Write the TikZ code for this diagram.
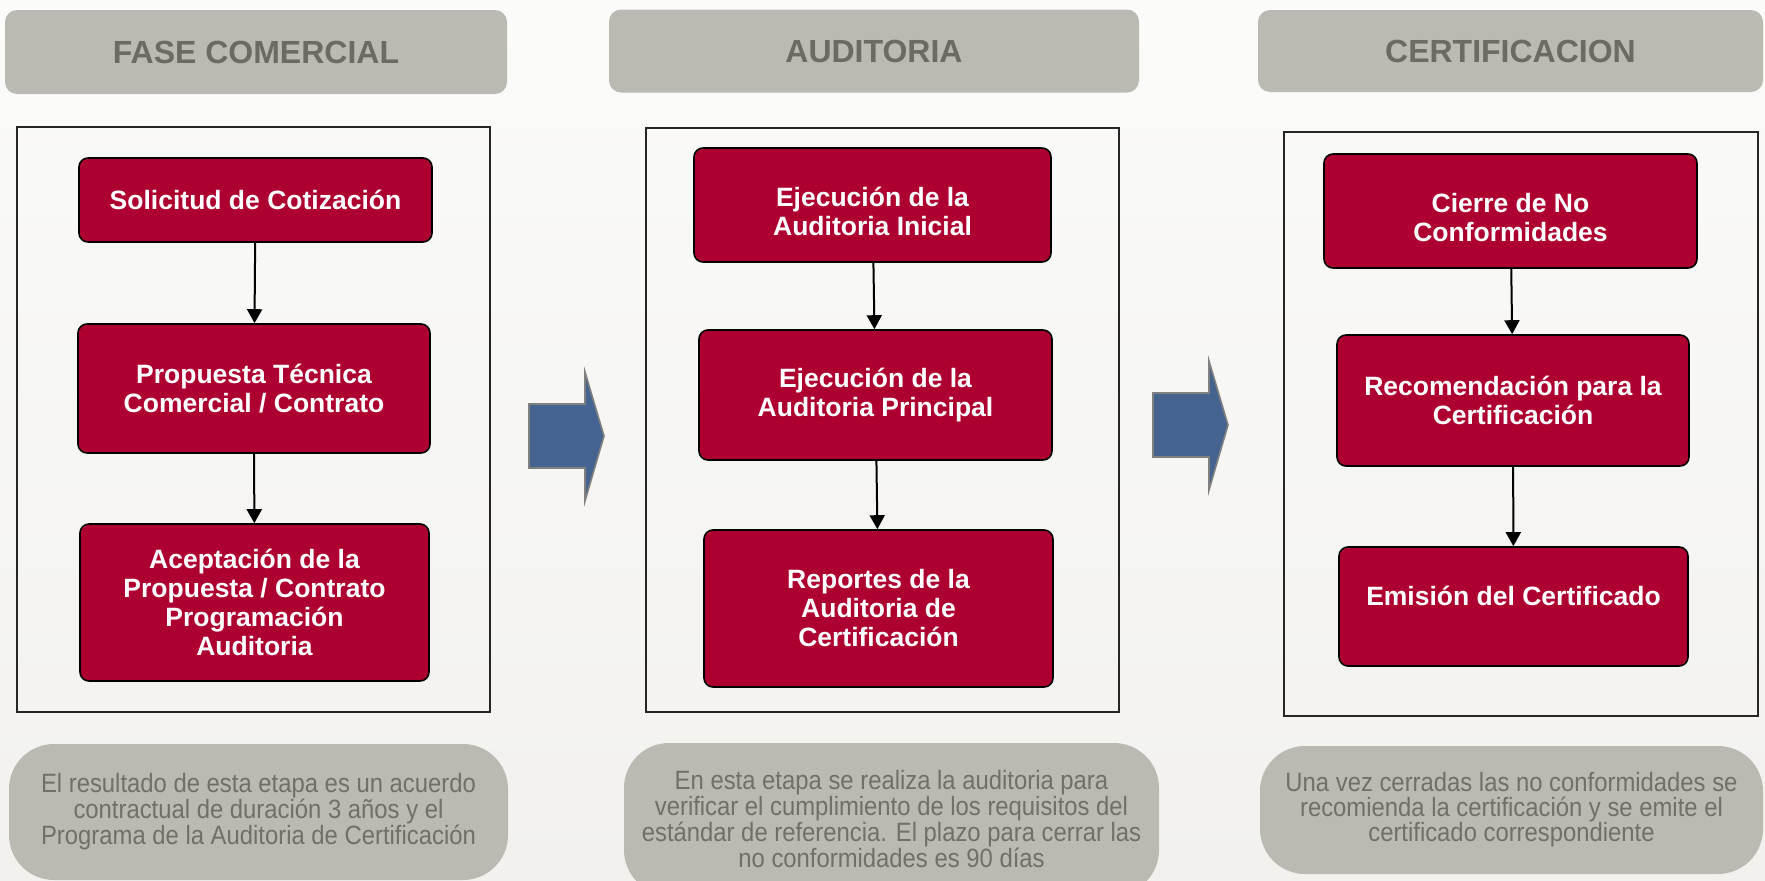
\documentclass[tikz,border=0pt]{standalone}
\usepackage{fontspec}
\setmainfont{Liberation Sans}
\newfontfamily\notefont[FakeStretch=0.9]{Liberation Sans}
\usetikzlibrary{arrows.meta}
\definecolor{boxred}{RGB}{174,0,48}
\definecolor{hdrfill}{RGB}{187,186,178}
\definecolor{hdrtext}{RGB}{107,106,99}
\definecolor{notetext}{RGB}{112,111,104}
\definecolor{arrowblue}{RGB}{68,99,143}
\definecolor{arrowedge}{RGB}{128,128,128}
\definecolor{bgtop}{RGB}{251,251,250}
\definecolor{bgbot}{RGB}{242,241,238}
\tikzset{
  redbox/.style={draw=black, line width=1.6pt, fill=boxred, rounded corners=9pt,
    text=white, font=\bfseries\fontsize{26.5}{29}\selectfont, align=center, inner sep=0pt},
  redtext/.style={text=white, font=\bfseries\fontsize{26.5}{29}\selectfont, align=center, inner sep=0pt},
  header/.style={fill=hdrfill, rounded corners=12pt, text=hdrtext,
    font=\bfseries\fontsize{32}{34}\selectfont, inner sep=0pt},
  outerbox/.style={draw=black!85, line width=1.8pt},
  note/.style={fill=hdrfill, rounded corners=45pt, text=notetext,
    font=\notefont\fontsize{26.5}{24.3}\selectfont, align=center, inner sep=0pt},
  flow/.style={line width=2pt, -{Triangle[width=15pt,length=14pt]}},
  bluearrow/.style={fill=arrowblue, draw=arrowedge, line width=1.6pt, line join=miter}
}
\begin{document}
\begin{tikzpicture}[x=1pt,y=-1pt]
\useasboundingbox (0,0) rectangle (1765,881);
\clip (0,0) rectangle (1765,881);
\shade[top color=bgtop,bottom color=bgbot] (0,0) rectangle (1765,881);

% headers
\node[header, minimum width=502pt, minimum height=84pt] (h1) at (256,52) {FASE COMERCIAL};
\node[header, minimum width=530pt, minimum height=83pt] (h2) at (874,51) {AUDITORIA};
\node[header, minimum width=505pt, minimum height=82pt] (h3) at (1510.5,51) {CERTIFICACION};

% outer frames
\draw[outerbox] (17,127) rectangle (490,712);
\draw[outerbox] (646,128) rectangle (1119,712);
\draw[outerbox] (1284,132) rectangle (1758,716);

% column A
\node[redbox, minimum width=353pt, minimum height=84pt] (a1) at (255.5,200) {Solicitud de Cotización};
\node[redbox, minimum width=352pt, minimum height=129pt] (a2) at (254,388.5) {Propuesta Técnica\\Comercial / Contrato};
\node[redbox, minimum width=349pt, minimum height=157pt] (a3) at (254.5,602.5) {Aceptación de la\\Propuesta / Contrato\\Programación\\Auditoria};
\draw[flow] (a1) -- (a2);
\draw[flow] (a2) -- (a3);

% column B
\node[redbox, minimum width=357pt, minimum height=114pt] (b1) at (872.5,205) {};
\node[redtext] (b1t) at (872.5,211) {Ejecución de la\\Auditoria Inicial};
\node[redbox, minimum width=353pt, minimum height=130pt] (b2) at (875.5,395) {Ejecución de la\\Auditoria Principal};
\node[redbox, minimum width=349pt, minimum height=157pt] (b3) at (878.5,608.5) {Reportes de la\\Auditoria de\\Certificación};
\draw[flow] (b1) -- (b2);
\draw[flow] (b2) -- (b3);

% column C
\node[redbox, minimum width=373pt, minimum height=114pt] (c1) at (1510.5,211) {};
\node[redtext] (c1t) at (1510.5,218) {Cierre de No\\Conformidades};
\node[redbox, minimum width=352pt, minimum height=131pt] (c2) at (1513,400.5) {Recomendación para la\\Certificación};
\node[redbox, minimum width=349pt, minimum height=119pt] (c3) at (1513.5,606.5) {};
\node[redtext] (c3t) at (1513.5,596) {Emisión del Certificado};
\draw[flow] (c1) -- (c2);
\draw[flow] (c2) -- (c3);

% block arrows between phases
\draw[bluearrow] (529,404) -- (585,404) -- (585,372) -- (604,436) -- (585,501) -- (585,468) -- (529,468) -- cycle;
\draw[bluearrow] (1153,393) -- (1209,393) -- (1209,361) -- (1228,425) -- (1209,490) -- (1209,457) -- (1153,457) -- cycle;

% notes
\node[note, minimum width=499pt, minimum height=136pt] (n1) at (258.5,812) {El resultado de esta etapa es un acuerdo\\contractual de duración 3 años y el\\Programa de la Auditoria de Certificación};
\node[note, minimum width=535pt, minimum height=152pt] (n2) at (891.5,819) {En esta etapa se realiza la auditoria para\\verificar el cumplimiento de los requisitos del\\estándar de referencia. El plazo para cerrar las\\no conformidades es 90 días};
\node[note, minimum width=503pt, minimum height=128pt] (n3) at (1511.5,810) {Una vez cerradas las no conformidades se\\recomienda la certificación y se emite el\\certificado correspondiente};
\end{tikzpicture}
\end{document}
